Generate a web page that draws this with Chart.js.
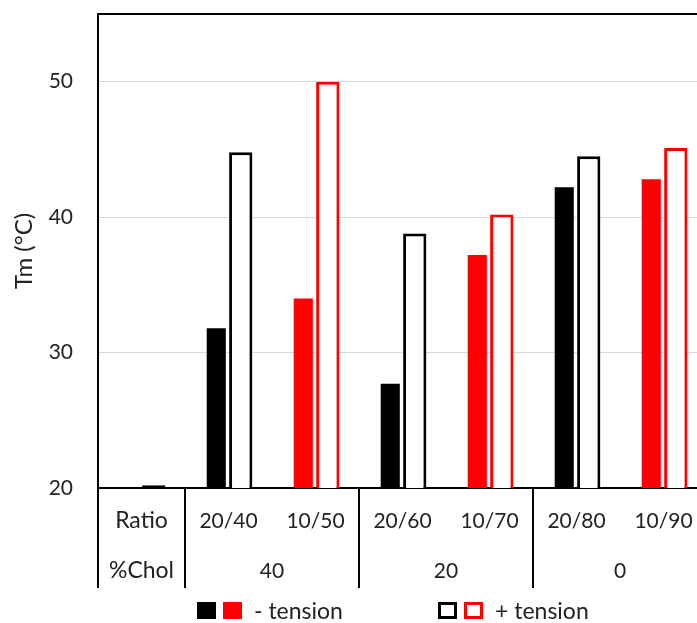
<!DOCTYPE html>
<html>
<head>
<meta charset="utf-8">
<script src="https://cdn.jsdelivr.net/npm/chart.js@4"></script>
<style>
  html, body { margin: 0; padding: 0; background: #fff; overflow: hidden; }
  #wrap { position: relative; width: 697px; height: 623px; overflow: hidden; }
  #wrap canvas { position: absolute; left: 0; top: 0; }
  .key { position: absolute; font-family: Lato, sans-serif; font-size: 23px; color: #222; line-height: 23px; white-space: nowrap; }
  .sw { position: absolute; box-sizing: border-box; width: 19px; height: 17px; }
</style>
</head>
<body>
<div id="wrap">
  <canvas id="c" width="712" height="623"></canvas>
  <div class="sw" style="left:197px;top:602px;background:#000"></div>
  <div class="sw" style="left:223px;top:602px;background:#f00"></div>
  <div class="key" style="left:254px;top:599px">- tension</div>
  <div class="sw" style="left:438px;top:602px;border:3px solid #000;background:#fff"></div>
  <div class="sw" style="left:464px;top:602px;border:3px solid #f00;background:#fff"></div>
  <div class="key" style="left:495px;top:599px">+ tension</div>
</div>
<script>
// Inner category row: lipid ratio
const ratioLabels = ['Ratio', '20/40', '10/50', '20/60', '10/70', '20/80', '10/90'];
// Outer category row: cholesterol content, each spanning a pair of ratios
const cholLabels = ['%Chol', '40', '20', '0'];
const cholSpans = [[0, 0], [1, 2], [3, 4], [5, 6]];
// Melting temperature (°C) without and with membrane tension
const minusTension = [null, 31.8, 34.0, 27.7, 37.2, 42.2, 42.8];
const plusTension = [20.2, 44.8, 50.0, 38.8, 40.2, 44.5, 45.1];
// Y axis ticks (55 is the top frame line)
const yTicks = [20, 30, 40, 50, 55];

// black for 20/x ratios, red for 10/x ratios
const pairColors = ratioLabels.map(l => l.startsWith('10/') ? '#ff0000' : '#000000');

const FAMILY = 'Lato, sans-serif';
const NUM_FONT = { family: FAMILY, size: 21 };
const WORD_SIZE = 23;
const TEXT = '#222222';

// draws the two label rows under the x axis and the group dividers
const twoRowAxis = {
  id: 'twoRowAxis',
  afterDraw(chart) {
    const { ctx, scales: { x }, chartArea } = chart;
    const step = x.getPixelForValue(1) - x.getPixelForValue(0);
    const bottom = chartArea.bottom;
    const fontFor = l => (/^[0-9\/]+$/.test(l) ? NUM_FONT.size : WORD_SIZE) + 'px ' + FAMILY;
    ctx.save();
    ctx.fillStyle = TEXT;
    ctx.textAlign = 'center';
    ctx.textBaseline = 'middle';
    ratioLabels.forEach((l, i) => {
      ctx.font = fontFor(l);
      ctx.fillText(l, x.getPixelForValue(i), bottom + 33);
    });
    cholLabels.forEach((l, k) => {
      const [a, b] = cholSpans[k];
      const cx = (x.getPixelForValue(a) + x.getPixelForValue(b)) / 2;
      ctx.font = fontFor(l);
      ctx.fillText(l, cx, bottom + 83);
    });
    ctx.strokeStyle = '#000';
    ctx.lineWidth = 2;
    const edges = [-0.5];
    cholSpans.forEach(s => edges.push(s[1] + 0.5));
    edges.forEach(e => {
      const px = Math.round(x.getPixelForValue(0) + e * step);
      ctx.beginPath();
      ctx.moveTo(px, bottom);
      ctx.lineTo(px, bottom + 100);
      ctx.stroke();
    });
    ctx.restore();
  }
};

new Chart(document.getElementById('c'), {
  type: 'bar',
  data: {
    labels: ratioLabels,
    datasets: [
      {
        label: '- tension',
        data: minusTension,
        backgroundColor: pairColors,
        borderWidth: 0,
        barPercentage: 0.78,
        categoryPercentage: 0.563
      },
      {
        label: '+ tension',
        data: plusTension,
        backgroundColor: '#ffffff',
        borderColor: pairColors,
        borderWidth: 3,
        barPercentage: 0.95,
        categoryPercentage: 0.563
      }
    ]
  },
  options: {
    responsive: false,
    animation: false,
    layout: { padding: { top: 14, right: 5, bottom: 135, left: 0 } },
    plugins: { legend: { display: false }, tooltip: { enabled: false } },
    scales: {
      x: {
        ticks: { display: false },
        grid: { display: true, color: 'rgba(0,0,0,0)', drawTicks: false },
        border: { display: true, color: '#000', width: 2 },
        afterFit(s) { s.height = 0; s.paddingLeft = 0; s.paddingRight = 0; }
      },
      y: {
        min: 20,
        max: 55,
        afterBuildTicks(s) { s.ticks = yTicks.map(v => ({ value: v })); },
        ticks: {
          font: NUM_FONT,
          color: TEXT,
          padding: 25,
          callback: v => (v === 55 ? '' : String(v))
        },
        grid: {
          drawTicks: false,
          color: c => (c.tick && (c.tick.value === 55 || c.tick.value === 20)) ? '#000' : '#d9d9d9',
          lineWidth: c => (c.tick && c.tick.value === 55) ? 2 : 1
        },
        border: { color: '#000', width: 2 },
        title: { display: true, text: 'Tm (°C)', font: { family: FAMILY, size: 24 }, color: TEXT, padding: { top: 10, bottom: 0 } },
        afterFit(s) { s.width = 98; s.paddingTop = 0; s.paddingBottom = 0; }
      }
    }
  },
  plugins: [twoRowAxis]
});
</script>
</body>
</html>
